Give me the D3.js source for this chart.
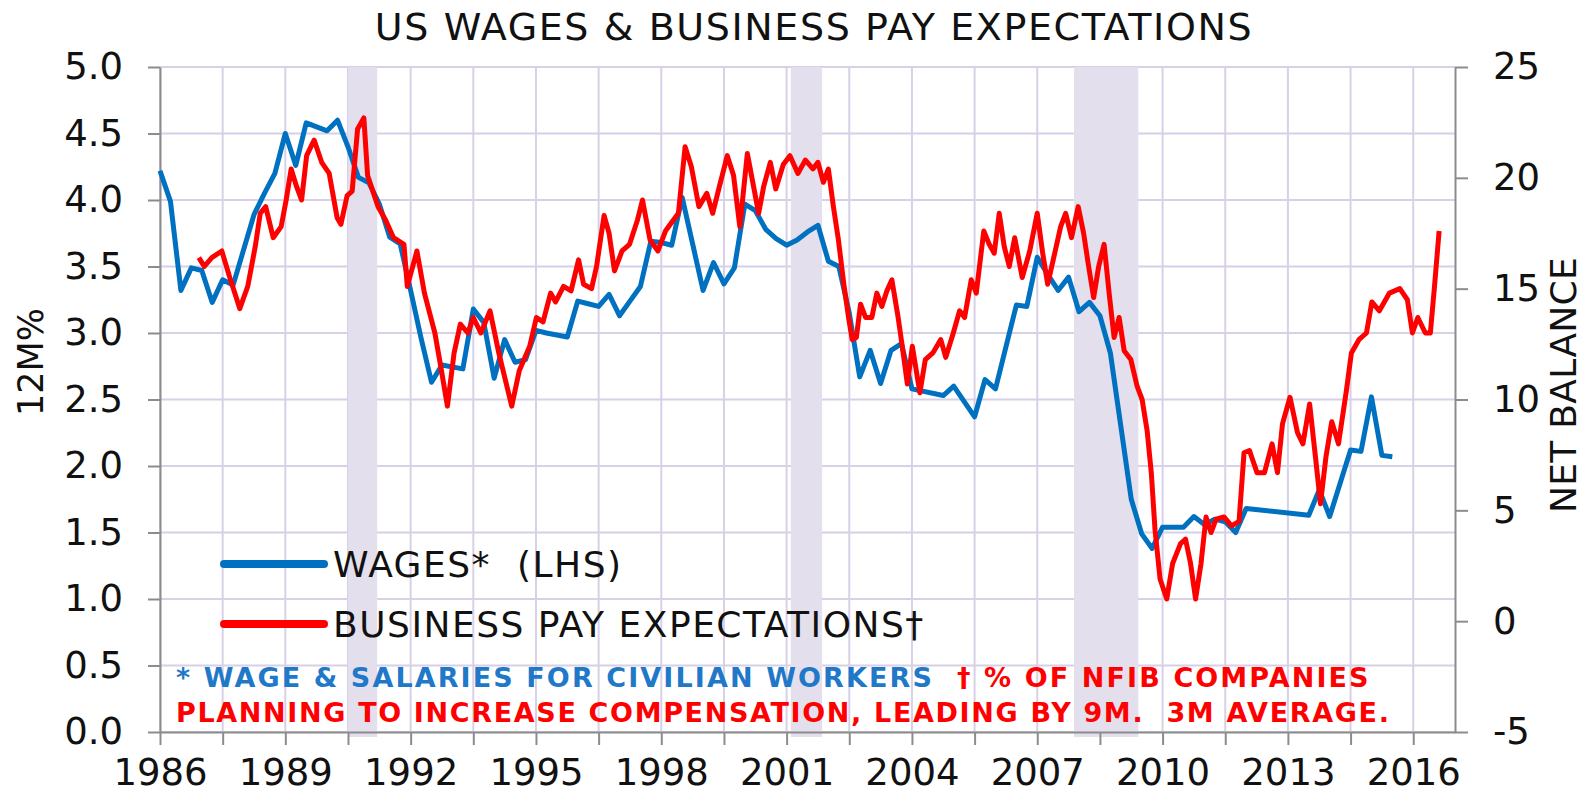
<!DOCTYPE html>
<html lang="en">
<head>
<meta charset="UTF-8">
<title>US Wages & Business Pay Expectations</title>
<script src="https://d3js.org/d3.v7.min.js"></script>
<style>
    body { margin: 0; background: #fff; font-family: "DejaVu Sans", sans-serif; }
    svg text { fill: #111; }
    .axis path, .axis line { stroke: #8c8c8c; stroke-width: 2; }
    .axis text { font-size: 37px; font-family: "DejaVu Sans", sans-serif; fill: #111; }
</style>
</head>
<body>
<div id="chart"></div>
<script>
    // wages, 12M% (left axis)
    const wageYears = [1986.0, 1986.25, 1986.5, 1986.75, 1987.0, 1987.25, 1987.5, 1987.75, 1988.25, 1988.5,
        1988.75, 1989.0, 1989.25, 1989.5, 1989.75, 1990.0, 1990.25, 1990.5, 1990.75, 1991.0,
        1991.25, 1991.5, 1991.75, 1992.0, 1992.25, 1992.5, 1992.75, 1993.25, 1993.5, 1993.75,
        1994.0, 1994.25, 1994.5, 1994.75, 1995.0, 1995.25, 1995.75, 1996.0, 1996.25, 1996.5,
        1996.75, 1997.0, 1997.25, 1997.5, 1997.75, 1998.0, 1998.25, 1998.5, 1998.75, 1999.0,
        1999.25, 1999.5, 1999.75, 2000.0, 2000.25, 2000.5, 2000.75, 2001.0, 2001.25, 2001.5,
        2001.75, 2002.0, 2002.25, 2002.5, 2002.75, 2003.0, 2003.25, 2003.5, 2003.75, 2004.0,
        2004.75, 2005.0, 2005.5, 2005.75, 2006.0, 2006.5, 2006.75, 2007.0, 2007.25, 2007.5,
        2007.75, 2008.0, 2008.25, 2008.5, 2008.75, 2009.0, 2009.25, 2009.5, 2009.75, 2010.0,
        2010.5, 2010.75, 2011.0, 2011.25, 2011.5, 2011.75, 2012.0, 2013.5, 2013.75, 2014.0,
        2014.5, 2014.75, 2015.0, 2015.25, 2015.5];
    const wageValues = [4.22, 3.99, 3.32, 3.49, 3.47, 3.23, 3.40, 3.36, 3.89, 4.05,
        4.20, 4.50, 4.26, 4.58, 4.55, 4.52, 4.60, 4.40, 4.17, 4.13,
        3.97, 3.72, 3.67, 3.32, 2.96, 2.63, 2.76, 2.73, 3.18, 3.08,
        2.66, 2.95, 2.78, 2.80, 3.02, 3.00, 2.97, 3.24, 3.22, 3.20,
        3.29, 3.13, 3.24, 3.35, 3.69, 3.68, 3.66, 4.02, 3.67, 3.32,
        3.53, 3.37, 3.49, 3.97, 3.92, 3.78, 3.71, 3.66, 3.70, 3.76,
        3.81, 3.54, 3.50, 3.15, 2.67, 2.87, 2.62, 2.87, 2.92, 2.58,
        2.53, 2.60, 2.37, 2.65, 2.58, 3.21, 3.20, 3.57, 3.44, 3.32,
        3.42, 3.16, 3.23, 3.13, 2.85, 2.30, 1.75, 1.49, 1.38, 1.54,
        1.54, 1.62, 1.56, 1.60, 1.58, 1.50, 1.68, 1.63, 1.82, 1.62,
        2.12, 2.11, 2.52, 2.08, 2.07];

    // business pay expectations, net balance (right axis)
    const payYears = [1986.93, 1987.06, 1987.24, 1987.48, 1987.67, 1987.79, 1987.91, 1988.1, 1988.28, 1988.4,
        1988.53, 1988.71, 1988.9, 1989.02, 1989.14, 1989.27, 1989.39, 1989.51, 1989.69, 1989.87,
        1990.05, 1990.24, 1990.33, 1990.48, 1990.6, 1990.73, 1990.88, 1990.97, 1991.22, 1991.4,
        1991.59, 1991.84, 1991.92, 1992.15, 1992.33, 1992.58, 1992.72, 1992.88, 1993.04, 1993.19,
        1993.37, 1993.5, 1993.68, 1993.9, 1994.11, 1994.42, 1994.6, 1994.85, 1995.01, 1995.17,
        1995.35, 1995.47, 1995.66, 1995.84, 1996.02, 1996.14, 1996.33, 1996.45, 1996.63, 1996.75,
        1996.88, 1997.06, 1997.24, 1997.43, 1997.55, 1997.73, 1997.92, 1998.1, 1998.29, 1998.41,
        1998.57, 1998.72, 1998.9, 1999.09, 1999.23, 1999.39, 1999.58, 1999.73, 1999.88, 2000.06,
        2000.21, 2000.33, 2000.45, 2000.61, 2000.74, 2000.92, 2001.08, 2001.27, 2001.45, 2001.63,
        2001.75, 2001.88, 2002.0, 2002.12, 2002.24, 2002.37, 2002.49, 2002.57, 2002.67, 2002.77,
        2002.89, 2003.04, 2003.16, 2003.28, 2003.4, 2003.52, 2003.67, 2003.79, 2003.89, 2004.01,
        2004.19, 2004.32, 2004.5, 2004.69, 2004.81, 2004.99, 2005.14, 2005.26, 2005.42, 2005.54,
        2005.72, 2005.85, 2005.97, 2006.09, 2006.21, 2006.33, 2006.46, 2006.64, 2006.82, 2007.0,
        2007.13, 2007.25, 2007.43, 2007.56, 2007.68, 2007.82, 2007.98, 2008.11, 2008.23, 2008.35,
        2008.47, 2008.6, 2008.72, 2008.84, 2008.96, 2009.08, 2009.24, 2009.39, 2009.51, 2009.63,
        2009.73, 2009.82, 2009.94, 2010.1, 2010.24, 2010.43, 2010.55, 2010.67, 2010.79, 2010.92,
        2011.04, 2011.16, 2011.28, 2011.47, 2011.65, 2011.83, 2011.95, 2012.08, 2012.26, 2012.44,
        2012.62, 2012.75, 2012.87, 2013.05, 2013.23, 2013.36, 2013.52, 2013.66, 2013.78, 2013.91,
        2014.05, 2014.21, 2014.4, 2014.52, 2014.7, 2014.88, 2015.01, 2015.19, 2015.43, 2015.68,
        2015.86, 2015.98, 2016.11, 2016.29, 2016.41, 2016.5, 2016.62];
    const payValues = [16.4, 16.0, 16.4, 16.7, 15.5, 14.8, 14.1, 15.1, 16.9, 18.4,
        18.7, 17.3, 17.8, 19.0, 20.4, 19.6, 19.0, 21.0, 21.7, 20.7,
        20.2, 18.2, 17.9, 19.2, 19.4, 22.2, 22.7, 20.1, 18.7, 18.1,
        17.3, 17.0, 15.1, 16.7, 14.8, 13.0, 11.5, 9.7, 12.1, 13.4,
        13.0, 13.7, 13.0, 14.0, 12.1, 9.7, 11.3, 12.4, 13.7, 13.5,
        14.8, 14.4, 15.1, 14.9, 16.3, 15.2, 15.0, 16.0, 18.3, 17.5,
        15.8, 16.7, 17.0, 18.1, 19.0, 17.2, 16.7, 17.6, 18.1, 18.4,
        21.4, 20.5, 18.7, 19.3, 18.4, 19.6, 21.0, 20.1, 17.8, 21.1,
        19.6, 18.4, 19.6, 20.7, 19.5, 20.6, 21.0, 20.2, 20.8, 20.4,
        20.7, 19.8, 20.4, 18.7, 17.2, 15.2, 13.6, 12.7, 12.8, 14.3,
        13.7, 13.7, 14.8, 14.2, 14.9, 15.4, 13.7, 12.1, 10.7, 12.4,
        10.3, 11.8, 12.1, 12.7, 11.9, 13.0, 14.0, 13.7, 15.4, 14.8,
        17.6, 17.0, 16.6, 18.4, 16.9, 16.0, 17.3, 15.5, 16.7, 18.4,
        16.6, 15.2, 16.7, 17.8, 18.4, 17.3, 18.7, 17.5, 16.0, 14.6,
        16.0, 17.0, 14.8, 12.8, 13.7, 12.2, 11.8, 10.6, 10.0, 8.6,
        6.7, 4.1, 1.9, 1.0, 2.6, 3.5, 3.7, 2.6, 1.0, 2.6,
        4.7, 4.0, 4.6, 4.7, 4.3, 4.5, 7.6, 7.7, 6.7, 6.7,
        8.0, 6.7, 8.9, 10.1, 8.5, 8.0, 9.8, 7.4, 5.3, 7.4,
        9.0, 8.0, 10.4, 12.1, 12.7, 13.0, 14.4, 14.0, 14.8, 15.0,
        14.5, 13.0, 13.7, 13.0, 13.0, 14.9, 17.6];

    // US recessions (start, end)
    const recessions = [[1990.5, 1991.2], [2001.1, 2001.85], [2007.88, 2009.42]];

    const leftTicks = d3.range(0, 5.01, 0.5);
    const rightTicks = d3.range(-5, 25.1, 5);
    const yearTicks = d3.range(1986, 2016.1, 1.5);

    const width = 1586, height = 795;
    const plot = { left: 160, right: 1455, top: 67, bottom: 732 };

    const svg = d3.select("#chart").append("svg")
        .attr("width", width)
        .attr("height", height);

    const x = d3.scaleLinear().domain([1986, 2017]).range([plot.left, plot.right]);
    const yL = d3.scaleLinear().domain([0, 5]).range([plot.bottom, plot.top]);
    const yR = d3.scaleLinear().domain([-5, 25]).range([plot.bottom, plot.top]);

    // gridlines
    const grid = svg.append("g").attr("stroke", "#d8d0e6").attr("stroke-width", 2);
    grid.selectAll(".h").data(leftTicks).enter().append("line")
        .attr("x1", plot.left).attr("x2", plot.right)
        .attr("y1", d => yL(d)).attr("y2", d => yL(d));
    grid.selectAll(".v").data(yearTicks).enter().append("line")
        .attr("x1", d => x(d)).attr("x2", d => x(d))
        .attr("y1", plot.top).attr("y2", plot.bottom);

    // recession bands
    svg.append("g").selectAll("rect").data(recessions).enter().append("rect")
        .attr("x", d => x(d[0]))
        .attr("width", d => x(d[1]) - x(d[0]))
        .attr("y", plot.top)
        .attr("height", plot.bottom - plot.top + 5)
        .attr("fill", "#e3dfec");

    // axes
    svg.append("g").attr("class", "axis")
        .attr("transform", `translate(${plot.left},0)`)
        .call(d3.axisLeft(yL).tickValues(leftTicks).tickFormat(d3.format(".1f"))
            .tickSize(12).tickSizeOuter(0).tickPadding(25));

    svg.append("g").attr("class", "axis")
        .attr("transform", `translate(${plot.right},0)`)
        .call(d3.axisRight(yR).tickValues(rightTicks).tickFormat(d => String(d))
            .tickSize(13).tickSizeOuter(0).tickPadding(25));

    svg.append("g").attr("class", "axis")
        .attr("transform", `translate(0,${plot.bottom})`)
        .call(d3.axisBottom(x).tickValues(yearTicks)
            .tickFormat(d => (d - 1986) % 3 === 0 ? d : "")
            .tickSize(13).tickSizeOuter(0).tickPadding(14));

    // series
    const wageLine = d3.line().x(d => x(d[0])).y(d => yL(d[1]));
    const payLine = d3.line().x(d => x(d[0])).y(d => yR(d[1]));

    svg.append("path")
        .datum(d3.zip(wageYears, wageValues))
        .attr("d", wageLine)
        .attr("fill", "none")
        .attr("stroke", "#0070c0")
        .attr("stroke-width", 5)
        .attr("stroke-linejoin", "round");

    svg.append("path")
        .datum(d3.zip(payYears, payValues))
        .attr("d", payLine)
        .attr("fill", "none")
        .attr("stroke", "#ff0000")
        .attr("stroke-width", 5)
        .attr("stroke-linejoin", "round");

    // title
    svg.append("text")
        .attr("x", 814).attr("y", 40)
        .attr("text-anchor", "middle")
        .style("font-size", "38px")
        .style("letter-spacing", "1.6px")
        .text("US WAGES & BUSINESS PAY EXPECTATIONS");

    // axis titles
    svg.append("text")
        .attr("transform", "translate(31,362) rotate(-90)")
        .attr("text-anchor", "middle")
        .attr("dominant-baseline", "central")
        .style("font-size", "35px")
        .text("12M%");

    svg.append("text")
        .attr("transform", "translate(1576,385) rotate(-90)")
        .attr("text-anchor", "middle")
        .style("font-size", "36px")
        .style("letter-spacing", "0.3px")
        .text("NET BALANCE");

    // legend
    const legend = [
        { label: "WAGES*\u00a0\u00a0(LHS)", color: "#0070c0", y: 564 },
        { label: "BUSINESS PAY EXPECTATIONS\u2020", color: "#ff0000", y: 624 }
    ];
    const lg = svg.append("g").selectAll("g").data(legend).enter().append("g");
    lg.append("line")
        .attr("x1", 224).attr("x2", 324)
        .attr("y1", d => d.y).attr("y2", d => d.y)
        .attr("stroke", d => d.color)
        .attr("stroke-width", 8)
        .attr("stroke-linecap", "round");
    lg.append("text")
        .attr("x", 333).attr("y", d => d.y)
        .attr("dy", "0.36em")
        .style("font-size", "36px")
        .style("letter-spacing", "1.5px")
        .text(d => d.label);

    // footnotes
    const note = svg.append("g")
        .style("font-size", "27px")
        .style("font-weight", "bold");
    const n1 = note.append("text").attr("x", 176).attr("y", 687)
        .style("letter-spacing", "2.1px");
    n1.append("tspan").style("fill", "#1f78c8").text("* WAGE & SALARIES FOR CIVILIAN WORKERS");
    n1.append("tspan").style("fill", "#ff0000").text("\u00a0\u00a0\u2020 % OF NFIB COMPANIES");
    note.append("text").attr("x", 176).attr("y", 722)
        .style("fill", "#ff0000")
        .style("letter-spacing", "1.65px")
        .text("PLANNING TO INCREASE COMPENSATION, LEADING BY 9M.\u00a0\u00a03M AVERAGE.");
</script>
</body>
</html>
